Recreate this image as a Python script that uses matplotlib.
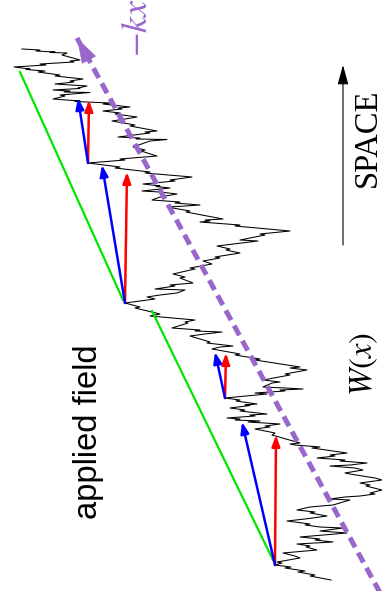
import matplotlib
matplotlib.use("Agg")
import matplotlib.pyplot as plt

plt.rcParams['mathtext.fontset'] = 'stix'

# ---------------- data (picture coordinates: W to the right, space downward) ----
walk_x = [22, 40, 36, 55, 50, 67, 62, 80, 70, 74, 40, 46, 14, 30, 26, 45, 38, 60, 55, 83,
          70, 74, 55, 87, 78, 80, 53, 70, 64, 90, 60, 65, 53, 80, 75, 110, 103, 130, 118, 122,
          103, 120, 115, 137, 125, 112, 135, 130, 157, 145, 150, 118, 140, 136, 167, 150, 133, 145, 141, 157,
          120, 125, 88,
          120, 115, 150, 145, 192, 170, 175, 143, 160, 156, 170, 142, 160, 177, 160, 152, 180, 175, 200,
          185, 167, 190, 186, 223, 205, 210, 200, 240, 235, 290, 260, 265, 240, 258, 217, 230, 226,
          240, 215, 220, 203, 212, 190, 195, 173, 185, 180, 193, 170, 175, 155, 185, 177, 160, 147,
          155, 125,
          140, 135, 160, 150, 195, 185, 188, 172, 200, 195, 222, 205, 190, 200, 210, 207, 233, 220,
          212, 240, 235, 260, 255, 300, 290, 307, 285, 290, 263, 280, 272, 263, 285, 303, 280, 285,
          255, 267, 225,
          240, 236, 257, 245, 250, 230, 245, 240, 267, 250, 255, 227, 240, 235, 260, 248, 280, 265,
          270, 255, 275, 272, 300, 290, 295, 320, 312, 347, 330, 335, 317, 345, 340, 367, 350, 330,
          355, 363, 345, 350, 375, 382, 360, 370, 366, 382, 370, 375, 360, 345, 330, 350, 333, 310,
          297, 315, 310, 327, 305, 287, 310, 305, 320, 343, 320, 347, 300, 320, 315, 333, 297, 310,
          306, 317, 283, 295, 300, 277, 282, 275,
          291, 285, 305, 298, 315, 310, 331]
walk_y = [49, 50, 51, 52, 52.5, 53, 55, 60, 61, 62, 64, 65, 67, 69, 69.5, 71, 72, 75, 76, 79,
          81, 82, 84, 86, 88, 88.5, 90, 91, 92, 92.5, 95, 96, 99, 101, 101.5, 103, 104, 107, 108, 109,
          111, 113, 114, 117, 119, 121, 125, 126, 131, 132, 133, 137, 138, 139, 139.5, 141, 147, 150, 151, 156,
          159, 160, 163,
          167, 168, 172, 173, 177, 180, 181, 184, 186, 186.5, 188, 191, 192, 194, 197, 200, 202, 203, 205,
          206, 207, 211, 212, 219, 220, 221, 222, 225, 226, 231, 234, 235, 240, 241, 246, 249, 250,
          253, 257, 258, 261, 264, 268, 269, 274, 277, 278, 283, 285, 286, 289, 290, 293, 295, 297,
          299, 303,
          307, 308, 314, 316, 320, 322, 323, 328, 330, 331, 332, 334, 336, 339, 342, 343, 346, 347,
          349, 354, 355, 359, 360, 367, 368, 370, 374, 375, 380, 382, 383, 387, 388, 389, 390, 391,
          393, 394, 398,
          400, 401, 404, 405, 405.5, 408, 410, 411, 414, 415, 416, 418, 419, 420, 421, 422, 424, 426,
          427, 429, 433, 435, 443, 444, 445, 447, 448, 453, 455, 456, 458, 460, 461, 463, 465, 466,
          468, 470, 473, 474, 478, 480, 483, 485, 486, 490, 493, 494, 496, 497, 499, 500, 505, 507,
          510, 512, 513, 516, 519, 521, 524, 525, 527, 528, 531, 533, 537, 539, 540, 542, 544, 546,
          547, 550, 553, 556, 558, 562, 563, 565,
          567, 568, 571, 572, 575, 576, 580]

# applied-field line  -kx  (tip and far end)
kx_x = [77, 384]
kx_y = [38, 600]

# green tangent segments
green1_x = [20, 123]
green1_y = [72, 300]
green2_x = [152, 273]
green2_y = [311, 560]

# arrow tails (walk minima) and tips
tail_x = [88, 125, 225, 275]
tail_y = [163, 303, 398, 565]
red_tip_x = [89, 127, 226, 276]
red_tip_y = [100, 172, 353, 435]
blue_tip_x = [78, 102, 215, 242]
blue_tip_y = [98, 165, 352, 422]

# SPACE axis arrow
space_x = [343, 343]
space_y = [245, 65]

PURPLE = '#9966cc'

fig = plt.figure(figsize=(3.82, 5.91), dpi=100)
ax = fig.add_axes([0, 0, 1, 1])
ax.set_xlim(0, 382)
ax.set_ylim(591, 0)
ax.axis('off')

# walk
ax.plot(walk_x, walk_y, color='black', lw=0.75, zorder=2)

# green lines
ax.plot(green1_x, green1_y, color='#00e600', lw=1.6, zorder=3)
ax.plot(green2_x, green2_y, color='#00e600', lw=1.6, zorder=3)

# dashed -kx line with arrow head
ax.plot(kx_x, kx_y, color=PURPLE, lw=3.6, linestyle=(0, (2.2, 1.25)),
        dash_capstyle='butt', zorder=4)
ax.annotate('', xy=(kx_x[0], kx_y[0]),
            xytext=(kx_x[0] + (kx_x[1] - kx_x[0]) * 0.045, kx_y[0] + (kx_y[1] - kx_y[0]) * 0.045),
            arrowprops=dict(arrowstyle='-|>,head_length=0.85,head_width=0.27',
                            mutation_scale=20, color=PURPLE, lw=0.5,
                            shrinkA=0, shrinkB=0), zorder=5)

# red and blue arrows
for tx, ty, rx, ry, bx, by in zip(tail_x, tail_y, red_tip_x, red_tip_y, blue_tip_x, blue_tip_y):
    ax.annotate('', xy=(rx, ry), xytext=(tx, ty),
                arrowprops=dict(arrowstyle='-|>,head_length=0.6,head_width=0.22',
                                mutation_scale=11, color='#ff0000', lw=1.8,
                                shrinkA=0, shrinkB=0), zorder=6)
    ax.annotate('', xy=(bx, by), xytext=(tx, ty),
                arrowprops=dict(arrowstyle='-|>,head_length=0.6,head_width=0.22',
                                mutation_scale=11, color='#0000ff', lw=1.8,
                                shrinkA=0, shrinkB=0), zorder=6)

# SPACE arrow
ax.annotate('', xy=(space_x[1], space_y[1]), xytext=(space_x[0], space_y[0]),
            arrowprops=dict(arrowstyle='-|>,head_length=1.2,head_width=0.33',
                            mutation_scale=10, color='black', lw=0.8,
                            shrinkA=0, shrinkB=0), zorder=6)

# texts
ax.text(88, 432, 'applied field', rotation=90, ha='center', va='center',
        family='Liberation Sans', fontsize=23.5, color='black')
ax.text(364, 364, r'$W(x)$', rotation=90, ha='center', va='center',
        fontsize=23.5, color='black')
ax.text(368, 138, 'SPACE', rotation=90, ha='center', va='center',
        family='Liberation Serif', fontsize=23.5, color='black')
ax.text(137, 28, r'$-kx$', rotation=90, ha='center', va='center',
        fontsize=26, color=PURPLE)

fig.savefig('out.png', dpi=100)
